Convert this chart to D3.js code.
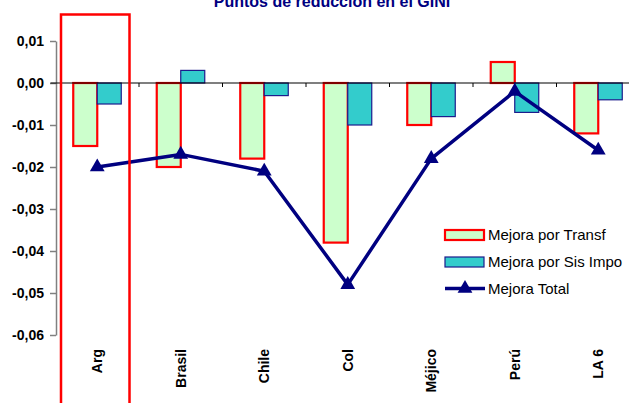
<!DOCTYPE html>
<html lang="es">
<head>
<meta charset="UTF-8">
<title>Puntos de reducción en el GINI</title>
<script src="https://d3js.org/d3.v7.min.js"></script>
<style>
    html, body { margin: 0; padding: 0; background: #fff; }
    svg { display: block; font-family: "Liberation Sans", Arial, sans-serif; }
    .title { font-size: 16px; font-weight: bold; fill: #000080; }
    .yaxis text { font-size: 14px; font-weight: bold; fill: #000; }
    .yaxis path, .yaxis line { stroke: #808080; stroke-width: 1.5; }
    .xlabel { font-size: 14px; font-weight: bold; fill: #000; }
    .legend text { font-size: 15px; fill: #000; }
</style>
</head>
<body>
<svg id="chart" width="629" height="403"></svg>
<script>
// datos
const paises = ["Arg", "Brasil", "Chile", "Col", "Méjico", "Perú", "LA 6"];
const mejoraTransf = [-0.015, -0.020, -0.018, -0.038, -0.010, 0.005, -0.012];
const mejoraSisImpo = [-0.005, 0.003, -0.003, -0.010, -0.008, -0.007, -0.004];
const mejoraTotal = [-0.020, -0.017, -0.021, -0.048, -0.018, -0.002, -0.016];
const yTicks = [0.01, 0, -0.01, -0.02, -0.03, -0.04, -0.05, -0.06];
const seriesNames = ["Mejora por Transf", "Mejora por Sis Impo", "Mejora Total"];
const titulo = "Puntos de reducción en el GINI";

const svg = d3.select("#chart");

const y = d3.scaleLinear().domain([-0.06, 0.01]).range([335, 41]);
const x = d3.scaleBand().domain(paises).range([55.5, 640]);
const xs = d3.scaleBand().domain([0, 1]).range([-24, 24]);
const cx = p => x(p) + x.bandwidth() / 2;

const fmt = d => d3.format(".2f")(d).replace("−", "-").replace(".", ",");

// titulo (cortado arriba en el original)
svg.append("text")
    .attr("class", "title")
    .attr("x", 332)
    .attr("y", 7)
    .attr("text-anchor", "middle")
    .text(titulo);

// eje y
const yAxis = svg.append("g")
    .attr("class", "yaxis")
    .attr("transform", "translate(56,0)")
    .call(d3.axisLeft(y).tickValues(yTicks).tickFormat(fmt).tickSize(6).tickSizeOuter(0).tickPadding(6));

// barras
const barData = [mejoraTransf, mejoraSisImpo];
const barStyle = [
    { fill: "#CCFFCC", stroke: "#FF0000", sw: 2.2 },
    { fill: "#33CCCC", stroke: "#1C1C8C", sw: 1.2 }
];

barData.forEach((vals, s) => {
    svg.append("g")
        .selectAll("rect")
        .data(paises)
        .enter().append("rect")
        .attr("x", (p) => cx(p) + xs(s))
        .attr("y", (p, i) => y(Math.max(vals[i], 0)))
        .attr("width", xs.bandwidth())
        .attr("height", (p, i) => Math.abs(y(vals[i]) - y(0)))
        .attr("fill", barStyle[s].fill)
        .attr("stroke", barStyle[s].stroke)
        .attr("stroke-width", barStyle[s].sw);
});

// linea del cero con marcas
svg.append("line")
    .attr("x1", 50.5).attr("x2", 640)
    .attr("y1", y(0)).attr("y2", y(0))
    .attr("stroke", "#000").attr("stroke-width", 1.2);

svg.append("g")
    .selectAll("line")
    .data(paises)
    .enter().append("line")
    .attr("x1", p => x(p) + x.bandwidth())
    .attr("x2", p => x(p) + x.bandwidth())
    .attr("y1", y(0))
    .attr("y2", y(0) + 4)
    .attr("stroke", "#000");

// etiquetas de paises
svg.append("g")
    .selectAll("text")
    .data(paises)
    .enter().append("text")
    .attr("class", "xlabel")
    .attr("transform", p => `translate(${cx(p)},349) rotate(-90)`)
    .attr("text-anchor", "end")
    .attr("dy", "0.35em")
    .text(p => p);

// linea Mejora Total
const line = d3.line()
    .x((d, i) => cx(paises[i]))
    .y(d => y(d));

svg.append("path")
    .datum(mejoraTotal)
    .attr("d", line)
    .attr("fill", "none")
    .attr("stroke", "#000080")
    .attr("stroke-width", 3.5)
    .attr("stroke-linejoin", "round");

const tri = d3.symbol().type(d3.symbolTriangle).size(95);

svg.append("g")
    .selectAll("path")
    .data(mejoraTotal)
    .enter().append("path")
    .attr("d", tri)
    .attr("transform", (d, i) => `translate(${cx(paises[i])},${y(d)})`)
    .attr("fill", "#000080");

// recuadro rojo sobre Arg
svg.append("rect")
    .attr("x", x("Arg") + 5.5)
    .attr("y", 14.5)
    .attr("width", x.bandwidth() - 15)
    .attr("height", 420)
    .attr("fill", "none")
    .attr("stroke", "#FF0000")
    .attr("stroke-width", 2.5);

// leyenda
const legend = svg.append("g").attr("class", "legend");
const legY = [235, 262, 288.5];

seriesNames.forEach((name, i) => {
    const g = legend.append("g").attr("transform", `translate(445,${legY[i]})`);
    if (i < 2) {
        g.append("rect")
            .attr("x", 0).attr("y", -5)
            .attr("width", 39).attr("height", 10)
            .attr("fill", barStyle[i].fill)
            .attr("stroke", barStyle[i].stroke)
            .attr("stroke-width", barStyle[i].sw);
    } else {
        g.append("line")
            .attr("x1", 0).attr("x2", 40)
            .attr("stroke", "#000080").attr("stroke-width", 3.5);
        g.append("path")
            .attr("d", tri)
            .attr("transform", "translate(20,0)")
            .attr("fill", "#000080");
    }
    g.append("text")
        .attr("x", 43)
        .attr("dy", "0.35em")
        .text(name);
});
</script>
</body>
</html>
